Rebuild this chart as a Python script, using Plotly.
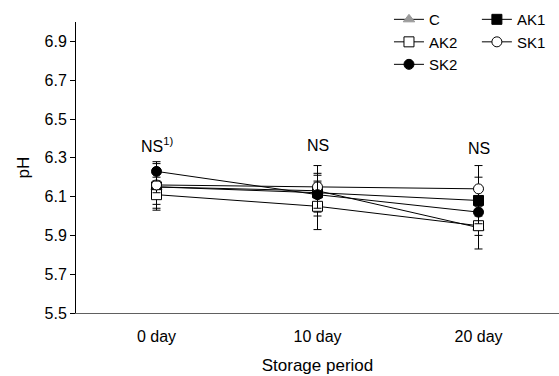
import plotly.graph_objects as go

days = ["0 day", "10 day", "20 day"]
x_pos = [0, 1, 2]
series_names = ["C", "AK1", "AK2", "SK1", "SK2"]
C_vals = [6.15, 6.13, 5.94]
AK1_vals = [6.15, 6.12, 6.08]
AK2_vals = [6.11, 6.05, 5.95]
SK1_vals = [6.16, 6.15, 6.14]
SK2_vals = [6.23, 6.11, 6.02]
C_err = [0.09, 0.13, 0.11]
AK1_err = [0.12, 0.10, 0.12]
AK2_err = [0.07, 0.12, 0.05]
SK1_err = [0.04, 0.06, 0.12]
SK2_err = [0.05, 0.07, 0.06]
ns_labels = ["NS<sup>1)</sup>", "NS", "NS"]
ns_y = [6.365, 6.365, 6.35]
y_ticks = [5.5, 5.7, 5.9, 6.1, 6.3, 6.5, 6.7, 6.9]

FONT = "Liberation Sans, Arial, sans-serif"
FS = 16

styles = {
    "C": dict(symbol="triangle-up", color="#9a9a9a", line=dict(color="#9a9a9a", width=1), legend="legend"),
    "AK1": dict(symbol="square", color="black", line=dict(color="black", width=1), legend="legend2"),
    "AK2": dict(symbol="square", color="white", line=dict(color="black", width=1), legend="legend"),
    "SK1": dict(symbol="circle", color="white", line=dict(color="black", width=1), legend="legend2"),
    "SK2": dict(symbol="circle", color="black", line=dict(color="black", width=1), legend="legend"),
}
vals = {"C": C_vals, "AK1": AK1_vals, "AK2": AK2_vals, "SK1": SK1_vals, "SK2": SK2_vals}
errs = {"C": C_err, "AK1": AK1_err, "AK2": AK2_err, "SK1": SK1_err, "SK2": SK2_err}

fig = go.Figure()
for name in series_names:
    st = styles[name]
    fig.add_trace(go.Scatter(
        x=x_pos, y=vals[name], name=name, mode="lines+markers",
        line=dict(color="black", width=1),
        marker=dict(symbol=st["symbol"], size=10, color=st["color"], line=st["line"]),
        error_y=dict(type="data", array=errs[name], color="black", thickness=1, width=4),
        legend=st["legend"],
    ))

for xi, lab, yy in zip(x_pos, ns_labels, ns_y):
    fig.add_annotation(x=xi, y=yy, text=lab, showarrow=False,
                       font=dict(family=FONT, size=FS, color="black"),
                       xanchor="center", yanchor="middle")

leg_common = dict(xanchor="left", yanchor="top", bgcolor="rgba(0,0,0,0)",
                  font=dict(family=FONT, size=15), itemwidth=30, tracegroupgap=0)
fig.update_layout(
    width=559, height=376,
    margin=dict(l=76, r=0, t=22, b=63, autoexpand=False),
    paper_bgcolor="white", plot_bgcolor="white",
    font=dict(family=FONT, size=FS, color="black"),
    showlegend=True,
    legend=dict(x=0.648, y=1.065, **leg_common),
    legend2=dict(x=0.83, y=1.065, **leg_common),
    xaxis=dict(range=[-0.5, 2.5], tickvals=x_pos, ticktext=days, showgrid=False, zeroline=False,
               showline=True, linecolor="#606060", linewidth=1, ticks="", automargin=False,
               ticklabelstandoff=9,
               title=dict(text="Storage period", standoff=14, font=dict(size=17)),
               tickfont=dict(size=FS)),
    yaxis=dict(range=[5.5, 7.0], tickvals=y_ticks, ticktext=[f"{v:.1f}" for v in y_ticks],
               showgrid=False, zeroline=False, showline=True, linecolor="black", linewidth=1,
               ticks="outside", ticklen=5, tickcolor="black", automargin=False,
               title=dict(text="pH", standoff=10, font=dict(size=17)), tickfont=dict(size=FS)),
)

fig.write_html("out.html", config={"displayModeBar": False},
               post_script="document.body.style.margin='0';")
